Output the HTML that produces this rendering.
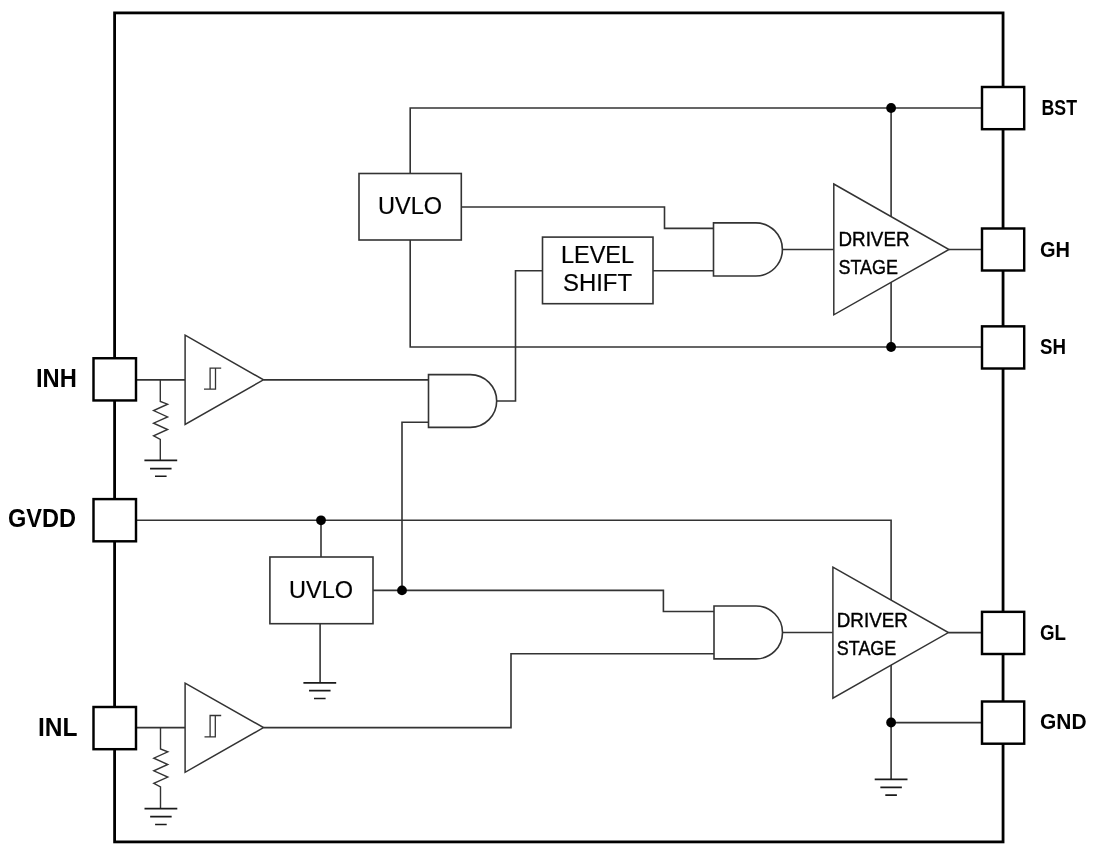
<!DOCTYPE html>
<html><head><meta charset="utf-8"><title>Gate driver block diagram</title>
<style>html,body{margin:0;padding:0;background:#fff;width:1100px;height:854px;overflow:hidden}svg{display:block;will-change:transform}text{font-family:"Liberation Sans",sans-serif}</style>
</head><body>
<svg width="1100" height="854" viewBox="0 0 1100 854">
<rect width="1100" height="854" fill="#fff"/>
<path d="M410.2,173.4V108.0H982" fill="none" stroke="#333" stroke-width="1.6" />
<path d="M891.1,108.0V347.0" fill="none" stroke="#333" stroke-width="1.6" />
<path d="M410.2,239.8V347.0H982" fill="none" stroke="#333" stroke-width="1.6" />
<path d="M461.3,207.0H664.5V228.4H713.5" fill="none" stroke="#333" stroke-width="1.6" />
<path d="M653,270.8H713.5" fill="none" stroke="#333" stroke-width="1.6" />
<path d="M782.4,249.5H833.8" fill="none" stroke="#333" stroke-width="1.6" />
<path d="M949.0,249.5H982" fill="none" stroke="#333" stroke-width="1.6" />
<path d="M136,379.9H185.1" fill="none" stroke="#333" stroke-width="1.6" />
<path d="M263.5,379.9H428.5" fill="none" stroke="#333" stroke-width="1.6" />
<path d="M496.7,401.0H515.5V270.8H542.5" fill="none" stroke="#333" stroke-width="1.6" />
<path d="M428.5,422.2H402.0V590.4" fill="none" stroke="#333" stroke-width="1.6" />
<path d="M136,520.3H891.1V779.4" fill="none" stroke="#333" stroke-width="1.6" />
<path d="M321,520.3V557" fill="none" stroke="#333" stroke-width="1.6" />
<path d="M320.1,623.7V682.9" fill="none" stroke="#333" stroke-width="1.6" />
<path d="M373,590.4H663.4V611.5H714" fill="none" stroke="#333" stroke-width="1.6" />
<path d="M263.5,727.6H511.0V653.7H714" fill="none" stroke="#333" stroke-width="1.6" />
<path d="M782.5,632.5H832.9" fill="none" stroke="#333" stroke-width="1.6" />
<path d="M948.4,632.6H982" fill="none" stroke="#333" stroke-width="1.6" />
<path d="M891.1,722.6H982" fill="none" stroke="#333" stroke-width="1.6" />
<path d="M136,727.6H185.1" fill="none" stroke="#333" stroke-width="1.6" />
<path d="M160.3,379.8V401.4L167.6,404.2L153.6,410.6L167.6,416.9L153.6,423.2L167.6,429.5L153.6,435.8L160.3,439.4V460.4" fill="none" stroke="#333" stroke-width="1.4" stroke-linejoin="miter"/>
<path d="M160.5,727.7V749L167.8,751.8L153.8,758.2L167.8,764.5L153.8,770.8L167.8,777.1L153.8,783.4L160.5,787V808.6" fill="none" stroke="#333" stroke-width="1.4" stroke-linejoin="miter"/>
<path d="M144.4,460.4H177.2M150.05,468.6H171.55M155,476.3H166.6" fill="none" stroke="#1a1a1a" stroke-width="1.6" />
<path d="M144.5,808.6H177.3M150.15,816.6H171.65M155.1,824.5H166.7" fill="none" stroke="#1a1a1a" stroke-width="1.6" />
<path d="M303.4,682.9H336.2M309.05,690.6H330.55M314,698.5H325.6" fill="none" stroke="#1a1a1a" stroke-width="1.6" />
<path d="M874.7,779.4H907.5M880.35,787.4H901.85M885.3,795.1H896.9" fill="none" stroke="#1a1a1a" stroke-width="1.6" />
<rect x="359" y="173.5" width="102.3" height="66.5" fill="#fff" stroke="#333" stroke-width="1.6"/>
<rect x="542.5" y="237.1" width="110.5" height="66.6" fill="#fff" stroke="#333" stroke-width="1.6"/>
<rect x="269.9" y="557" width="103.1" height="66.7" fill="#fff" stroke="#333" stroke-width="1.6"/>
<path d="M713.5,222.9H755.85A26.55,26.55 0 0 1 755.85,276H713.5Z" fill="#fff" stroke="#333" stroke-width="1.6" />
<path d="M428.5,374.6H470.3A26.4,26.4 0 0 1 470.3,427.4H428.5Z" fill="#fff" stroke="#333" stroke-width="1.6" />
<path d="M714,606H756.05A26.45,26.45 0 0 1 756.05,658.9H714Z" fill="#fff" stroke="#333" stroke-width="1.6" />
<path d="M185.1,335.2L263.5,379.8L185.1,424.5Z" fill="#fff" stroke="#333" stroke-width="1.5" stroke-linejoin="miter"/>
<path d="M185.1,683.2L263.5,727.6L185.1,772.3Z" fill="#fff" stroke="#333" stroke-width="1.5" stroke-linejoin="miter"/>
<path d="M833.8,184L949,249.5L833.8,314.8Z" fill="#fff" stroke="#333" stroke-width="1.5" stroke-linejoin="miter"/>
<path d="M832.9,567.2L948.4,632.6L832.9,698.1Z" fill="#fff" stroke="#333" stroke-width="1.5" stroke-linejoin="miter"/>
<path d="M204,389.1H215.5V368.2M210.1,389.1V368.2H221.2" fill="none" stroke="#333" stroke-width="1.3" />
<path d="M204.5,736.9H215.3V715.5M210.1,736.9V715.5H221.2" fill="none" stroke="#333" stroke-width="1.3" />
<circle cx="891.1" cy="108" r="4.9" fill="#000"/>
<circle cx="891.1" cy="347" r="4.9" fill="#000"/>
<circle cx="321" cy="520.3" r="4.9" fill="#000"/>
<circle cx="402" cy="590.4" r="4.9" fill="#000"/>
<circle cx="891.1" cy="722.5" r="4.9" fill="#000"/>
<rect x="114.6" y="12.9" width="888.45" height="829.0" fill="none" stroke="#000" stroke-width="2.8"/>
<rect x="93.5" y="358.25" width="42.5" height="42.2" fill="#fff" stroke="#000" stroke-width="2.45"/>
<rect x="93.5" y="499.1" width="42.5" height="42.2" fill="#fff" stroke="#000" stroke-width="2.45"/>
<rect x="93.5" y="707" width="42.5" height="42.2" fill="#fff" stroke="#000" stroke-width="2.45"/>
<rect x="982" y="87" width="42.2" height="42.2" fill="#fff" stroke="#000" stroke-width="2.45"/>
<rect x="982" y="228.5" width="42.2" height="42" fill="#fff" stroke="#000" stroke-width="2.45"/>
<rect x="982" y="326.35" width="42.2" height="42.15" fill="#fff" stroke="#000" stroke-width="2.45"/>
<rect x="982" y="611.85" width="42.2" height="42.15" fill="#fff" stroke="#000" stroke-width="2.45"/>
<rect x="982" y="701.5" width="42.2" height="42.2" fill="#fff" stroke="#000" stroke-width="2.45"/>
<g fill="#000" font-family="Liberation Sans, sans-serif">
<text x="36" y="386.7" font-size="25.2" font-weight="bold" textLength="40.8" lengthAdjust="spacingAndGlyphs">INH</text>
<text x="8" y="527.4" font-size="25.2" font-weight="bold" textLength="68" lengthAdjust="spacingAndGlyphs">GVDD</text>
<text x="38" y="735.6" font-size="25.2" font-weight="bold" textLength="39.5" lengthAdjust="spacingAndGlyphs">INL</text>
<text x="1041.5" y="114.8" font-size="21.5" font-weight="bold" textLength="35.5" lengthAdjust="spacingAndGlyphs">BST</text>
<text x="1040" y="257.3" font-size="21.5" font-weight="bold" textLength="30" lengthAdjust="spacingAndGlyphs">GH</text>
<text x="1040" y="353.6" font-size="21.5" font-weight="bold" textLength="26" lengthAdjust="spacingAndGlyphs">SH</text>
<text x="1040" y="639.9" font-size="21.5" font-weight="bold" textLength="26" lengthAdjust="spacingAndGlyphs">GL</text>
<text x="1040" y="729.3" font-size="21.5" font-weight="bold" textLength="46.5" lengthAdjust="spacingAndGlyphs">GND</text>
<text x="378" y="213.8" font-size="24" font-weight="normal" textLength="64" lengthAdjust="spacingAndGlyphs" stroke="#000" stroke-width="0.2">UVLO</text>
<text x="561" y="262.8" font-size="23.5" font-weight="normal" textLength="73" lengthAdjust="spacingAndGlyphs" stroke="#000" stroke-width="0.2">LEVEL</text>
<text x="563" y="291.1" font-size="23.5" font-weight="normal" textLength="69" lengthAdjust="spacingAndGlyphs" stroke="#000" stroke-width="0.2">SHIFT</text>
<text x="289" y="598.4" font-size="24" font-weight="normal" textLength="64" lengthAdjust="spacingAndGlyphs" stroke="#000" stroke-width="0.2">UVLO</text>
<text x="838.5" y="246.1" font-size="20.3" font-weight="normal" textLength="71" lengthAdjust="spacingAndGlyphs" stroke="#000" stroke-width="0.4">DRIVER</text>
<text x="838.5" y="274.3" font-size="20.3" font-weight="normal" textLength="59.5" lengthAdjust="spacingAndGlyphs" stroke="#000" stroke-width="0.4">STAGE</text>
<text x="836.8" y="627" font-size="20.3" font-weight="normal" textLength="71" lengthAdjust="spacingAndGlyphs" stroke="#000" stroke-width="0.4">DRIVER</text>
<text x="836.8" y="654.9" font-size="20.3" font-weight="normal" textLength="59.5" lengthAdjust="spacingAndGlyphs" stroke="#000" stroke-width="0.4">STAGE</text>
</g>
</svg>
</body></html>
